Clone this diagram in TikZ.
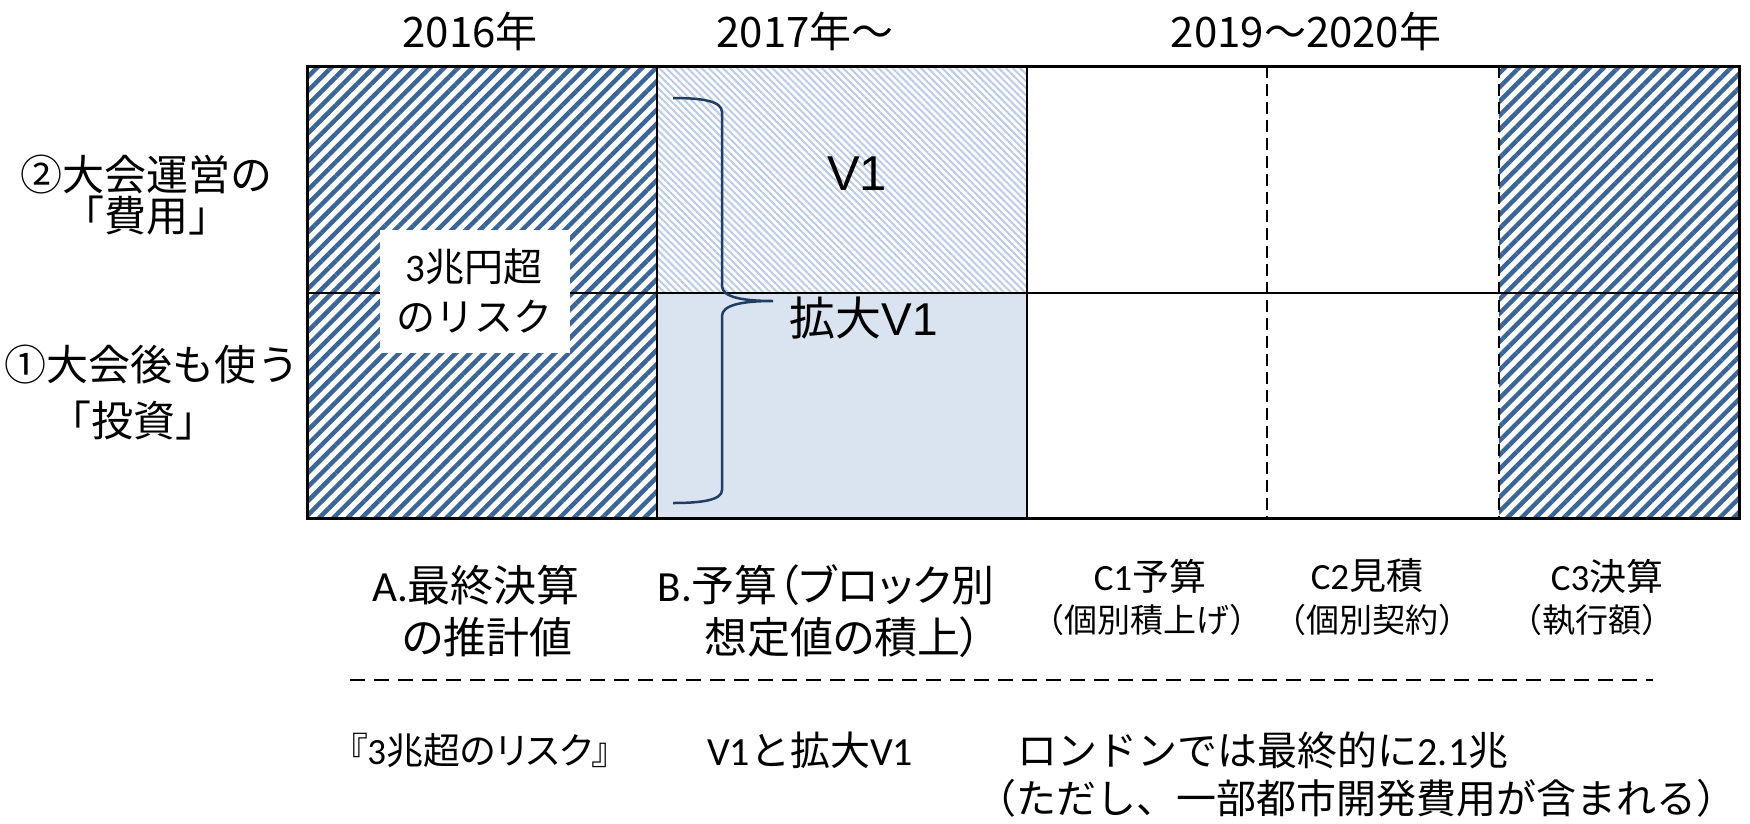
\documentclass[tikz,border=0pt]{standalone}
\usepackage{fontspec}
\setmainfont{Noto Sans CJK JP}
\newfontfamily\pjp[RawFeature=+palt]{Noto Sans CJK JP}
\newfontfamily\lat{Carlito}
\newfontfamily\ari{Liberation Sans}
\usetikzlibrary{patterns.meta}
\definecolor{hatchdark}{HTML}{3A6596}
\definecolor{hatchlight}{HTML}{BACCE6}
\definecolor{filllight}{HTML}{DAE3F0}
\definecolor{bracecol}{HTML}{203E63}
\newcommand{\fs}[1]{\fontsize{#1}{#1}\selectfont}
\begin{document}
\begin{tikzpicture}[x=1pt,y=-1pt,
  txt/.style={inner sep=0pt, anchor=center, text=black},
  hdr/.style={txt, font=\fs{42}},
  side/.style={txt, font=\fs{42}},
  lblA/.style={txt, font=\pjp\fs{43}},
  lblC/.style={txt, font=\fs{37}},
  lblCs/.style={txt, font=\fs{33}},
  note/.style={txt, font=\fs{40}},
  darkhatch/.style={pattern={Lines[angle=45,distance=10pt,line width=4.5pt]}, pattern color=hatchdark},
  lighthatch/.style={pattern={Lines[angle=-45,distance=5pt,line width=2pt]}, pattern color=hatchlight},
  gridline/.style={line width=2.5pt, draw=black},
  dashline/.style={line width=2.5pt, draw=black, dash pattern=on 12pt off 6pt},
  bracestyle/.style={draw=bracecol, line width=2.5pt}
]
\useasboundingbox (0,0) rectangle (1750,823);
\fill[white] (0,0) rectangle (1750,823);

% cells
\fill[darkhatch] (307,66) rectangle (657,518);
\fill[lighthatch] (657,66) rectangle (1027,293);
\fill[filllight] (657,293) rectangle (1027,518);
\fill[darkhatch] (1499,66) rectangle (1739,518);

% grid
\coordinate (tl) at (307,66);
\coordinate (br) at (1739,518);
\draw[gridline] (307,293) -- (1739,293);
\draw[gridline] (657,66) -- (657,518);
\draw[gridline] (1027,66) -- (1027,518);
\draw[dashline] (1267,66) -- (1267,518);
\draw[dashline] (1499,66) -- (1499,518);
\draw[gridline, line width=3pt] (tl) rectangle (br);

% white box
\node[fill=white, minimum width=190pt, minimum height=123pt, inner sep=0pt] (riskbox) at (475,291) {};
\node[txt, font=\fs{39}] (risk1) at (474,267) {{\lat 3}兆円超};
\node[txt, font=\fs{39}] (risk2) at (474,317) {のリスク};

% brace
\draw[bracestyle] (673,98) .. controls (702,98) and (722,101) .. (722,112)
  -- (722,286) .. controls (722,297) and (742,301) .. (773,301)
  .. controls (742,301) and (722,305) .. (722,316)
  -- (722,490) .. controls (722,500) and (702,503) .. (673,503);

\node[txt, font=\ari\fs{49}] (v1) at (857,174) {V1};
\node[txt, font=\fs{46}] (v1x) at (864,318) {拡大{\ari V1}};

% headers
\node[hdr] (h1) at (470,31) {2016年};
\node[hdr] (h2) at (805,31) {2017年～};
\node[hdr] (h3) at (1306,31) {2019～2020年};

% side labels
\node[txt, align=center, font=\fontsize{42}{38}\selectfont] (s12) at (146,195)
  {②大会運営の\\「費用」\hspace{24pt}};
\node[side] (s3) at (152,365) {①大会後も使う};
\node[side] (s4) at (133,421) {「投資」};

% bottom labels
\node[lblA] (a1) at (476,585) {{\lat A.}最終決算};
\node[lblA] (a2) at (487,637) {の推計値};
\node[lblA] (b1) at (826,585) {{\lat B.}予算（ブロック別};
\node[lblA] (b2) at (843,637) {想定値の積上）};
\node[lblC] (c1) at (1150,576) {{\lat C1}予算};
\node[lblCs] (c1s) at (1147,620) {（個別積上げ）};
\node[lblC] (c2) at (1367,576) {{\lat C2}見積};
\node[lblCs] (c2s) at (1372,620) {（個別契約）};
\node[lblC] (c3) at (1607,576) {{\lat C3}決算};
\node[lblCs] (c3s) at (1592,620) {（執行額）};

% separator
\coordinate (sepL) at (350,680);
\coordinate (sepR) at (1653,680);
\draw[line width=2pt, dash pattern=on 15pt off 9pt] (sepL) -- (sepR);

% notes
\node[note, font=\pjp\fs{37}] (n1) at (480,750) {『{\lat 3}兆超のリスク』};
\node[note, font=\fs{40}] (n2) at (810,750) {{\lat V1}と拡大{\lat V1}};
\node[note] (n3) at (1263,750) {ロンドンでは最終的に{\lat 2.1}兆};
\node[note] (n4) at (1356,798) {（ただし、一部都市開発費用が含まれる）};
\end{tikzpicture}
\end{document}
